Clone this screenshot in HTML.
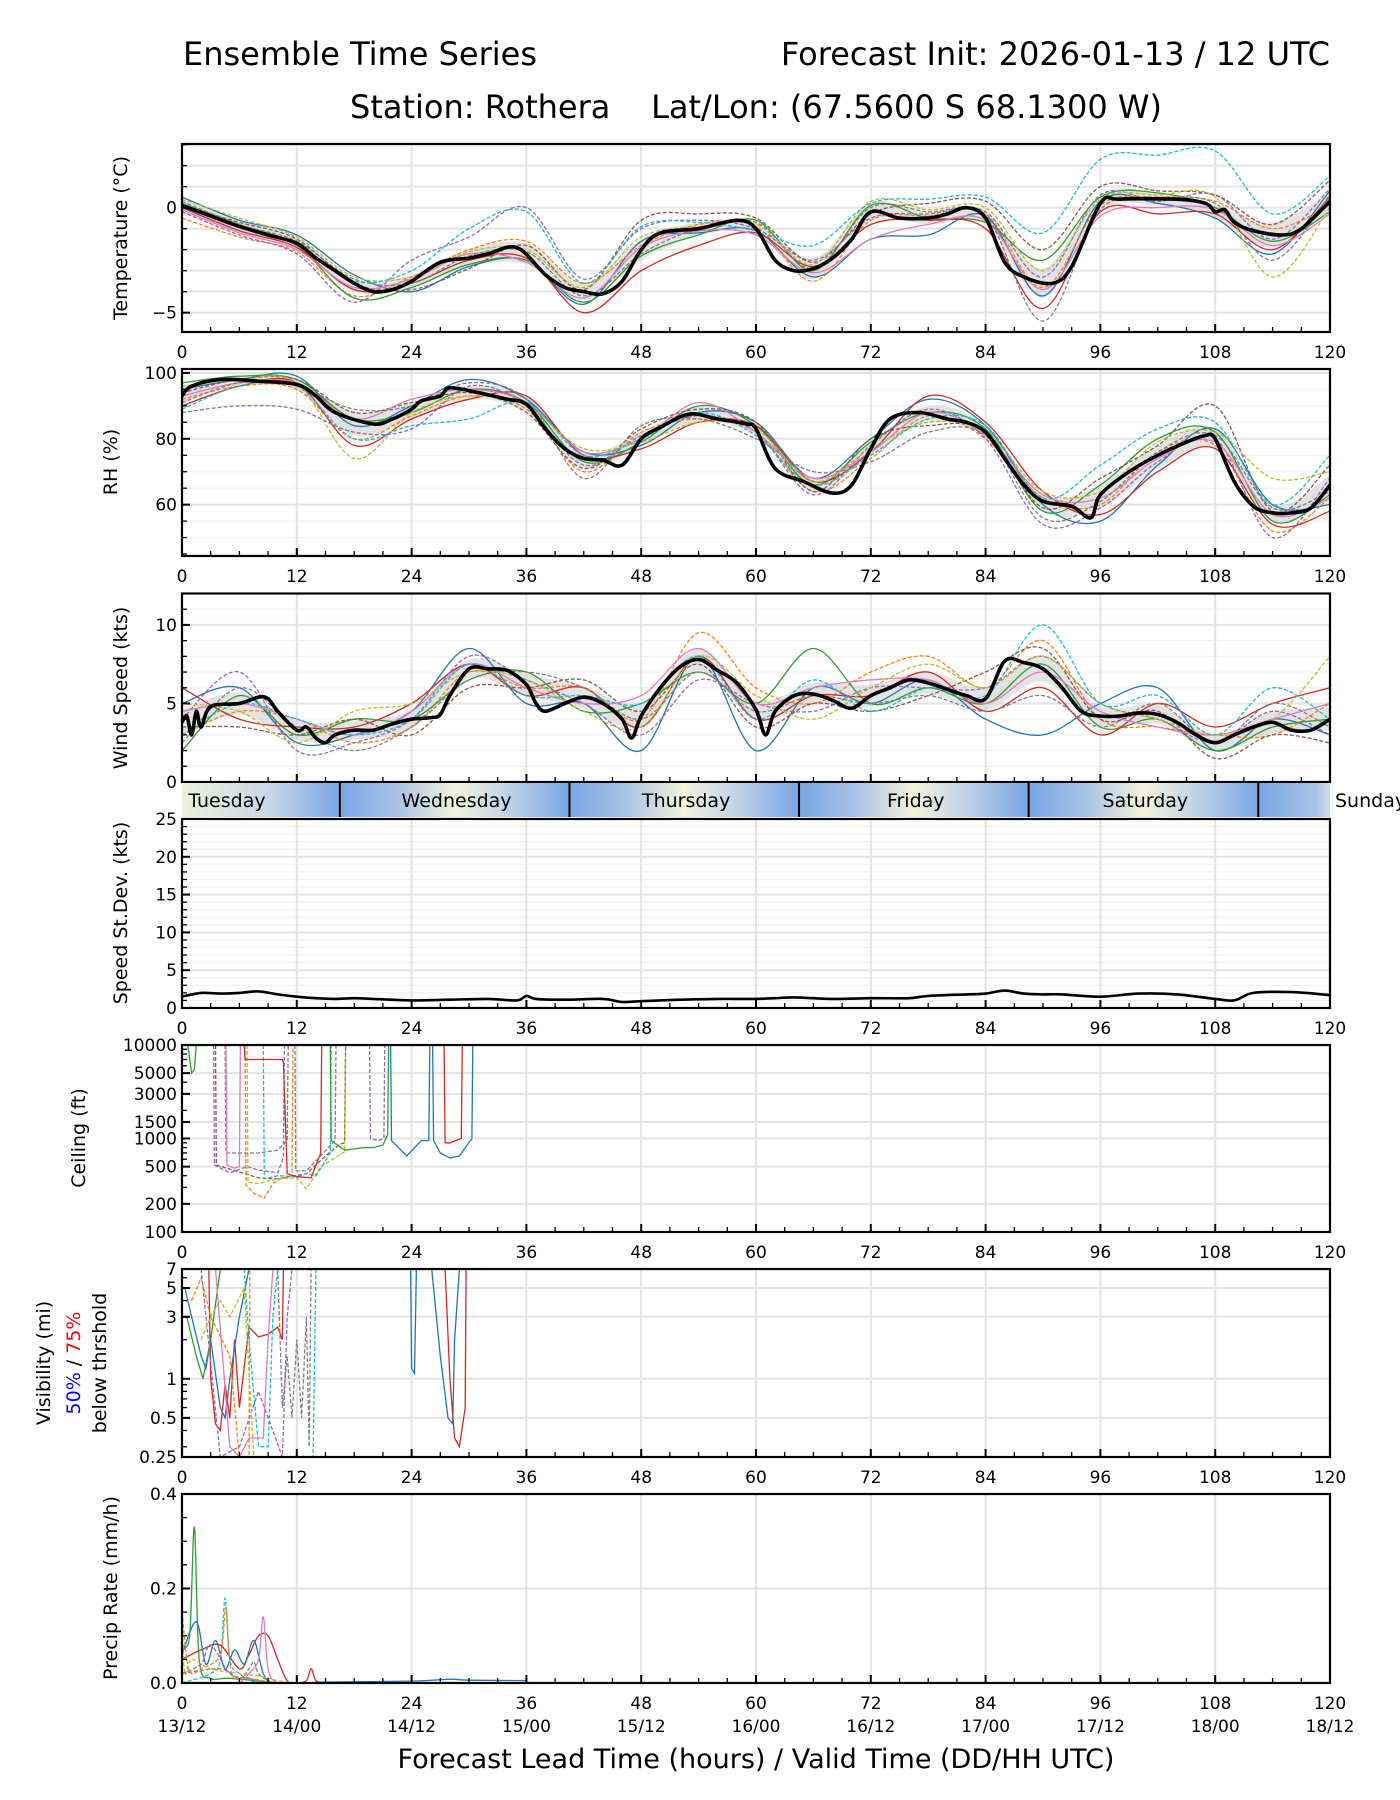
<!DOCTYPE html>
<html><head><meta charset="utf-8">
<style>
html,body{margin:0;padding:0;background:#fff;}
svg{display:block;font-family:"DejaVu Sans","Liberation Sans",sans-serif;}
</style></head>
<body>
<svg id="fig" width="1400" height="1800" viewBox="0 0 1400 1800" xmlns="http://www.w3.org/2000/svg">
<text x="183" y="65" font-size="32">Ensemble Time Series</text>
<text x="1330" y="65" font-size="32" text-anchor="end">Forecast Init: 2026-01-13 / 12 UTC</text>
<text x="756" y="118" font-size="32" text-anchor="middle" xml:space="preserve">Station: Rothera    Lat/Lon: (67.5600 S 68.1300 W)</text>
<text x="756" y="1768" font-size="27" text-anchor="middle">Forecast Lead Time (hours) / Valid Time (DD/HH UTC)</text>
<g id="root"></g>
</svg>
<script>
// ---------- DATA ----------
const xTickHours = [0,12,24,36,48,60,72,84,96,108,120];
const dateLabels = ["13/12","14/00","14/12","15/00","15/12","16/00","16/12","17/00","17/12","18/00","18/12"];
const memberColors = ["#1f77b4","#ff7f0e","#2ca02c","#d62728","#9467bd","#8c564b","#e377c2","#7f7f7f","#bcbd22","#17becf"];
const memberDashed = [false,true,false,false,true,true,false,true,true,true];
const memberHours = [0,6,12,18,24,30,36,42,48,54,60,66,72,78,84,90,96,102,108,114,120];

// Temperature
const tempMeanHours = [0,3,6,9,12,14,16,18,20,22,24,27,30,32,35,38,40,42,44,46,48,50,54,58,60,62,64,66,68,70,72,75,78,80,82,84,86,88,91,93,96,98,104,107,108,109,110,112,115,117,120];
const tempMeanValues = [0.1,-0.4,-0.9,-1.3,-1.7,-2.4,-3.0,-3.6,-4.0,-3.9,-3.5,-2.6,-2.4,-2.2,-1.9,-3.2,-3.8,-4.0,-4.1,-3.5,-2.0,-1.2,-1.0,-0.6,-1.0,-2.5,-3.0,-2.9,-2.4,-1.5,-0.2,-0.5,-0.5,-0.3,0.0,-0.5,-2.6,-3.3,-3.6,-2.8,0.2,0.4,0.4,0.2,-0.2,-0.1,-0.7,-1.1,-1.3,-1.0,0.3];
const tempBandLow = [-0.2,-1.2,-2.0,-4.0,-3.8,-2.8,-2.7,-4.4,-2.5,-1.3,-1.3,-3.4,-0.6,-0.8,-0.8,-4.3,-0.2,0.1,-0.5,-1.9,-0.1];
const tempBandHigh = [0.4,-0.6,-1.4,-3.4,-3.2,-2.0,-1.7,-3.6,-1.5,-0.7,-0.7,-2.4,0.2,-0.2,-0.2,-2.9,0.6,0.7,0.1,-0.7,0.7];
const tempM1 = [0.5,-0.6,-1.3,-3.2,-4.0,-2.8,-2.5,-4.6,-1.6,-1.2,-1.1,-3.3,-1.5,-1.3,-0.4,-4.2,0.3,0.2,-0.5,-2.2,0.8];
const tempM2 = [-0.5,-1.4,-2.1,-4.2,-3.3,-2.0,-1.6,-3.6,-1.8,-0.8,-0.9,-3.5,-0.6,-0.4,-0.3,-3.8,0.1,0.5,0.3,-1.0,0.1];
const tempM3 = [0.2,-0.8,-1.8,-4.3,-3.8,-2.7,-2.5,-4.5,-2.3,-1.3,-0.6,-3.0,0.1,-0.5,-0.7,-2.5,0.5,0.7,0.0,-1.6,-0.2];
const tempM4 = [0.0,-1.1,-1.9,-3.9,-3.6,-2.5,-2.4,-5.0,-3.0,-1.8,-1.2,-2.8,-0.8,-0.6,-1.0,-4.8,-0.2,-0.3,-0.3,-2.0,0.5];
const tempM5 = [-0.2,-1.3,-2.2,-4.5,-2.5,-1.4,0.0,-3.4,-1.0,-0.6,-1.0,-2.5,-0.5,-0.3,-0.2,-3.3,0.6,0.3,0.6,-1.5,0.9];
const tempM6 = [0.1,-0.7,-1.5,-3.6,-3.9,-2.9,-1.8,-3.9,-0.6,-0.3,-0.5,-2.6,-0.3,0.2,0.3,-2.0,1.0,0.8,0.6,-0.8,1.3];
const tempM7 = [-0.1,-1.2,-2.0,-3.8,-3.4,-2.2,-2.6,-4.3,-1.9,-1.1,-1.3,-3.1,-1.5,-0.8,-0.6,-3.9,-0.4,0.0,-0.1,-1.8,-0.3];
const tempM8 = [0.3,-0.8,-1.6,-3.4,-3.6,-2.3,-2.1,-4.2,-2.2,-1.0,-0.7,-2.9,0.0,-0.2,-0.4,-5.4,-0.1,0.4,0.2,-2.5,0.6];
const tempM9 = [0.4,-0.5,-1.4,-3.3,-3.3,-2.1,-2.0,-3.8,-1.4,-0.9,-0.8,-2.7,0.3,-0.1,0.0,-3.0,0.4,0.6,0.5,-3.3,0.0];
const tempM10 = [0.2,-0.9,-1.7,-3.5,-3.0,-1.0,-0.2,-3.6,-0.9,-0.7,-1.1,-1.8,0.2,0.4,0.5,-1.2,2.3,2.5,2.7,-0.3,1.5];

// RH
const rhMeanHours = [0,1,4,8,12,14,16,20,22,24,25,27,28,31,34,36,38,40,42,44,46,48,50,53,56,59,60,62,65,68,70,72,74,77,80,82,84,86,88,90,93,95,96,99,102,105,107,108,110,112,114,116,118,120];
const rhMeanValues = [93,96,98,97.5,96.5,93,88,84.5,86,89,91.5,93,95.5,94,92,90.5,83,77,74,73.5,72,80,83.5,87.5,86,84.5,83,71,67,63.5,66,77,86,88,86,85,82,74,66,61,59.5,56,63,70,75,79,81,80,67,59.5,57.5,57.5,59,66];
const rhBandLow = [91,96,95,81,86,92,88,71,78,85,81,64,75,85,80,58,59,71,77,55,62];
const rhBandHigh = [96,99,98,88,91,96,93,76,82,90,85,68,79,90,84,63,66,78,83,60,69];
const rhM1 = [95,98,99,84,90,98,92,76,78,88,85,68,80,92,84,60,55,72,83,60,60];
const rhM2 = [92,96,95,80,87,93,89,70,82,86,82,64,74,87,80,62,60,76,78,52,62];
const rhM3 = [97,99,98,86,88,95,91,73,79,90,84,66,79,88,83,58,66,80,82,55,63];
const rhM4 = [90,96,97,78,86,92,93,75,77,85,84,67,76,93,85,64,57,70,77,54,58];
const rhM5 = [88,90,89,82,83,96,90,72,81,87,82,63,78,89,80,54,59,73,80,50,68];
const rhM6 = [94,98,98,88,91,94,88,71,83,89,85,64,80,84,82,59,68,78,90,58,72];
const rhM7 = [93,97,97,86,92,95,91,76,80,91,82,68,76,88,81,63,62,74,79,57,62];
const rhM8 = [91,97,96,89,90,97,92,68,84,86,80,70,73,82,81,56,61,76,81,59,64];
const rhM9 = [96,98,97,74,88,93,90,77,79,85,83,67,77,85,82,64,64,79,82,68,70];
const rhM10 = [89,96,96,80,84,86,91,75,80,88,81,66,75,86,84,62,72,83,85,60,75];

// Wind
const windMeanHours = [0,0.5,1,1.5,2,3,6,8,9,10,12,13,14,15,16,18,20,22,24,26,27,28,30,32,34,36,37,38,40,42,44,46,47,48,50,52,54,56,58,60,61,62,64,66,68,70,72,74,76,78,80,82,84,86,88,90,92,94,96,98,100,102,104,106,108,110,112,114,116,118,120];
const windMeanValues = [3.8,4.2,3.0,4.5,3.5,4.8,5.0,5.4,5.3,4.5,3.3,3.5,2.8,2.5,3.0,3.3,3.3,3.7,4.0,4.1,4.3,5.5,7.2,7.2,7.1,6.2,5.0,4.5,5.0,5.4,5.0,4.0,2.8,4.2,6.0,7.3,7.8,7.1,6.3,4.6,3.0,4.5,5.5,5.6,5.2,4.7,5.5,6.0,6.5,6.3,5.9,5.5,5.3,7.7,7.6,7.2,6.0,4.5,4.2,4.2,4.4,4.3,3.8,3.0,2.5,3.0,3.5,3.8,3.3,3.3,4.0];
const windBandLow = [3.0,4.3,2.7,2.7,3.4,6.6,5.5,4.7,3.5,7.1,4.0,4.9,4.8,5.6,4.6,6.4,3.6,3.7,2.0,3.1,3.3];
const windBandHigh = [4.6,5.7,3.9,3.9,4.6,7.8,6.9,6.1,4.9,8.5,5.2,6.3,6.2,7.0,6.0,8.0,4.8,4.9,3.0,4.5,4.7];
const windM1 = [5,6,2.5,3,4.5,8.5,5,5,2,8,2,6,5,6.5,4,3,5,6,2,4,3];
const windM2 = [3,4.5,4,2.5,3.5,7,6,6,4,9.5,6,5,7,8,6,9,4,3.5,3,3,5];
const windM3 = [2,5.5,3,4,4,6.5,7,4.5,5,7,5,8.5,5,6,5,7.5,3.5,4,2,3.5,4];
const windM4 = [6,4,3.5,3.5,5,7.5,5.5,6,3.5,8,4,5.5,5.5,7,4.5,6,3,5,3.5,5,6];
const windM5 = [4,7,2,2.5,4,8,6.5,5,3,6.5,5,4.5,6,6,6,8,5,4,2.5,4.5,3];
const windM6 = [3.5,3.5,3,4,3,6,6,6.5,4.5,7.5,3.5,5,4.5,5.5,7,8.5,4,4.5,1.5,3,2.5];
const windM7 = [4.5,5,4,3,4.5,7.5,6,5,5.5,8.5,5,6,6.5,6.5,5,7,4.5,3.5,3,4,5];
const windM8 = [2.5,6,3.5,2,3.5,6.5,7,6,4,7,4.5,5.5,5,5.5,4.5,5.5,3.5,5,2.5,5,3.5];
const windM9 = [5,4.5,2.5,4.5,5,7,6.5,4.5,3.5,8,5.5,4,6,7.5,6,8,5,4,3,4,8];
const windM10 = [3,5,4,3,4,7.5,5.5,5.5,5,8,4,6.5,4.5,6,5.5,10,5,5.5,3,6,4];

// Speed st.dev.
const sdHours = [0,2,4,6,8,10,12,14,16,18,20,24,28,32,35,36,37,40,44,46,48,52,56,60,62,64,68,72,76,78,82,84,86,88,90,92,96,100,104,108,110,112,116,120];
const sdValues = [1.5,2.0,1.9,2.0,2.2,1.8,1.5,1.3,1.2,1.3,1.2,1.0,1.1,1.2,1.0,1.6,1.2,1.1,1.2,0.8,0.9,1.1,1.2,1.2,1.3,1.4,1.2,1.3,1.3,1.6,1.8,1.9,2.3,1.9,1.8,1.8,1.5,1.9,1.8,1.2,1.0,2.0,2.1,1.7];

// Ceiling members (hour / ft)
const ceilH1=[3.3,3.4,5,6.8,8,10,10.6,10.7], ceilV1=[10000,520,430,500,460,430,620,10000];
const ceilH2=[3.5,3.6,8,10,13,15,16.5,17,17.1], ceilV2=[10000,520,380,370,420,650,870,900,10000];
const ceilH3=[6.6,6.7,7.5,8.6,9.5,10.5,11.5,11.6], ceilV3=[10000,320,260,230,330,380,400,10000];
const ceilH4=[6.8,6.9,8,10,12,13,14.5,17,17.1], ceilV4=[10000,340,330,370,380,290,500,720,10000];
const ceilH5=[8.5,8.6,10,12,13,14,15.5,15.6], ceilV5=[10000,370,400,390,420,400,700,10000];
const ceilH6=[6.5,6.6,10.5,10.6,11,12,13.5,14.5,14.6], ceilV6=[10000,7000,7000,6500,420,390,380,700,10000];
const ceilH7=[11.8,11.9,13,16,16.1], ceilV7=[10000,450,450,950,10000];
const ceilH8=[4.5,4.6,8,10,11,11.1], ceilV8=[10000,700,700,750,950,10000];
const ceilH9=[21.8,21.9,23.5,25,25.8,25.9], ceilV9=[10000,950,650,950,950,10000];
const ceilH10=[26.2,26.3,27,28,29,30.3,30.4], ceilV10=[10000,950,700,620,650,1000,10000];
const ceilH11=[15.5,15.6,17,19,20,21,21.5,21.6], ceilV11=[10000,950,750,800,800,850,1100,10000];
const ceilH12=[27.4,27.5,28,29.2,29.3], ceilV12=[10000,900,900,1000,10000];
const ceilH13=[19.6,19.7,20.5,21.1,21.2], ceilV13=[10000,1000,950,1000,10000];
const ceilH14=[4.6,4.7,5.5,6,6.1], ceilV14=[10000,520,480,500,10000];
const ceilH15=[0.6,1,1.3,1.5], ceilV15=[10000,5000,5500,10000];
const ceilColorIdx=[4,5,1,8,9,3,7,7,0,0,2,3,4,6,2];

// Visibility members (hour / mi)
const visH1=[2.8,3,3.5,4,4.5,5,5.5,6,7,8,9,10,10.5,10.6], visV1=[7,1,0.45,0.4,0.9,0.5,2,0.6,2.5,2.1,2.2,2.5,2.0,7];
const visH2=[0.3,1,2,2.5,3,4,4.5,5,6,7,7.1], visV2=[5,3,1.5,1.2,2,0.6,0.5,1,3,7,7];
const visH3=[10,10.5,11,11.5,12,12.5,13,13.3,13.5], visV3=[7,0.6,1.5,0.5,2,0.5,3,0.3,7];
const visH4=[23.9,24,24.3,24.5,24.6], visV4=[7,1.2,1.1,7,7];
const visH5=[26.1,27,27.8,28.3,28.5,29], visV5=[7,1.5,0.5,0.45,2,7];
const visH6=[27.5,28,28.5,29,29.6,29.7], visV6=[7,1,0.35,0.3,0.6,7];
const visH7=[6.5,7,8,9,9.5,10], visV7=[7,2,0.3,0.3,3,7];
const visH8=[1,2,3,5,6,7,7.1], visV8=[4,6,3,1.5,0.25,0.25,7];
const visH9=[2,4,6,8,10.5,11,11.5], visV9=[7,0.25,0.3,0.8,0.25,3,7];
const visH10=[0.5,1.5,2.2,3,4], visV10=[3,1.5,1,2,7];
const visH11=[2,3,4,5,6.5,7.5,8], visV11=[2,3,4,3,5,0.25,0.25];
const visH12=[3.5,5,6,7,8.5,9,9.5], visV12=[7,0.3,0.25,0.35,0.35,2,7];
const visH13=[13.5,13.7,14,14.2], visV13=[0.25,0.25,7,7];
const visColorIdx=[3,0,7,0,0,3,9,1,4,2,8,6,9];

// Precip members (hour / mm/h)
const prH1=[0,0.8,1.3,1.8,3,5,10], prV1=[0.08,0.1,0.33,0.05,0.01,0.01,0];
const prH2=[0,3,4,4.5,5,6,8,12], prV2=[0,0.02,0.05,0.18,0.05,0.02,0,0];
const prH3=[0,2,4,6,7,8,9,10,11,12,13,13.5,14,15], prV3=[0.05,0.07,0.08,0.03,0.06,0.1,0.1,0.05,0.005,0,0.005,0.03,0.005,0];
const prH4=[0,1.5,2.5,3.5,4.5,5.5,6.5,7.5,8.5,9.5,12], prV4=[0.06,0.13,0.04,0.09,0.03,0.07,0.04,0.09,0.02,0,0];
const prH5=[6,7,8,8.5,9,10,12], prV5=[0,0.02,0.05,0.14,0.03,0,0];
const prH6=[0,0.5,1,2,4,4.6,5.2,7,10], prV6=[0.15,0.05,0.02,0.03,0.06,0.16,0.02,0.01,0];
const prH7=[0,4,6,7,7.5,8,9,10], prV7=[0.02,0.03,0.01,0.03,0.045,0.02,0.005,0];
const prH8=[0,0.3,1,3,6,8,10,12], prV8=[0.12,0.02,0.05,0.03,0.02,0.015,0.005,0];
const prH9=[0,2,3,5,7,9], prV9=[0.02,0.04,0.08,0.02,0.01,0];
const prH10=[14,24,28,30,36], prV10=[0.002,0.004,0.008,0.006,0.005];
const prColorIdx=[2,9,3,0,6,1,7,8,4,0];

// Day bar
const dayBoundaries = [16.5,40.5,64.5,88.5,112.5];
const dayNames = ["Tuesday","Wednesday","Thursday","Friday","Saturday"];
const dayCenters = [4.7,28.7,52.7,76.7,100.7];

// ---------- DRAWING ----------
const NS="http://www.w3.org/2000/svg";
const root=document.getElementById('root');
const X0=182, X1=1330;
function xs(h){return X0+(h/120)*(X1-X0);}
function mk(tag,attrs,parent){const e=document.createElementNS(NS,tag);for(const k in attrs)e.setAttribute(k,attrs[k]);(parent||root).appendChild(e);return e;}
function linY(lo,hi,top,bot){return v=>bot-(v-lo)/(hi-lo)*(bot-top);}
function logY(lo,hi,top,bot){return v=>bot-(Math.log10(v)-Math.log10(lo))/(Math.log10(hi)-Math.log10(lo))*(bot-top);}
function smoothPath(hs,vs,ys){
  const p=hs.map((h,i)=>[xs(h),ys(vs[i])]);
  let d=`M${p[0][0].toFixed(1)},${p[0][1].toFixed(1)}`;
  for(let i=0;i<p.length-1;i++){
    const a=p[Math.max(0,i-1)],b=p[i],c=p[i+1],e=p[Math.min(p.length-1,i+2)];
    const c1=[b[0]+(c[0]-a[0])/6,b[1]+(c[1]-a[1])/6],c2=[c[0]-(e[0]-b[0])/6,c[1]-(e[1]-b[1])/6];
    d+=`C${c1[0].toFixed(1)},${c1[1].toFixed(1)} ${c2[0].toFixed(1)},${c2[1].toFixed(1)} ${c[0].toFixed(1)},${c[1].toFixed(1)}`;
  }
  return d;
}
function linePath(hs,vs,ys){return hs.map((h,i)=>(i?'L':'M')+xs(h).toFixed(1)+','+ys(vs[i]).toFixed(1)).join('');}

let clipId=0;
function panel(name,top,bot,ys,gridVals,minorGridVals,yTicks,yMinor,showX){
  const g=mk('g',{});
  
  
  const cid='clip'+(clipId++);
  const cp=mk('clipPath',{id:cid},g);mk('rect',{x:X0,y:top,width:X1-X0,height:bot-top},cp);
  (minorGridVals||[]).forEach(v=>mk('line',{x1:X0,x2:X1,y1:ys(v),y2:ys(v),stroke:'#f1f1f1','stroke-width':1.2},g));
  gridVals.forEach(v=>mk('line',{x1:X0,x2:X1,y1:ys(v),y2:ys(v),stroke:'#e3e3e3','stroke-width':2},g));
  xTickHours.forEach(h=>mk('line',{x1:xs(h),x2:xs(h),y1:top,y2:bot,stroke:'#e3e3e3','stroke-width':2},g));
  const data=mk('g',{'clip-path':`url(#${cid})`},g);
  mk('rect',{x:X0,y:top,width:X1-X0,height:bot-top,fill:'none',stroke:'#000','stroke-width':2.2},g);
  for(let h=0;h<=120;h+=3){const maj=h%12===0;mk('line',{x1:xs(h),x2:xs(h),y1:bot,y2:bot-(maj?8:5),stroke:'#000','stroke-width':maj?2:1.3},g);}
  yTicks.forEach(t=>{const y=ys(t.v);mk('line',{x1:X0,x2:X0+8,y1:y,y2:y,stroke:'#000','stroke-width':2},g);
    const tx=mk('text',{x:X0-5,y:y+6,'font-size':17,'text-anchor':'end'},g);tx.textContent=t.l;
    
    });
  (yMinor||[]).forEach(v=>{const y=ys(v);mk('line',{x1:X0,x2:X0+5,y1:y,y2:y,stroke:'#000','stroke-width':1.3},g);});
  if(showX!==false) xTickHours.forEach(h=>{const tx=mk('text',{x:xs(h),y:bot+26,'font-size':17,'text-anchor':'middle'},g);tx.textContent=h;
    
    });
  return data;
}
function members(data,arrs,hours,ys,smooth,colorIdx){
  arrs.forEach((vals,i)=>{
    const hs=Array.isArray(hours[0])?hours[i]:hours;
    const ci=colorIdx?colorIdx[i]:i%10;
    const p=mk('path',{d:smooth?smoothPath(hs,vals,ys):linePath(hs,vals,ys),fill:'none',stroke:memberColors[ci],'stroke-width':1.3,'stroke-dasharray':memberDashed[ci]?'4,2':'none'},data);
    
    
  });
}
function band(data,lo,hi,ys){
  const up=smoothPath(memberHours,hi,ys);
  const revH=memberHours.slice().reverse(),revL=lo.slice().reverse();
  const dn=smoothPath(revH,revL,ys).replace(/^M/,'L');
  const p=mk('path',{d:up+dn+'Z',fill:'#d0d0d0','fill-opacity':0.6,stroke:'none'},data);
  
  
}
function meanLine(data,hs,vs,ys,w){
  const p=mk('path',{d:smoothPath(hs,vs,ys),fill:'none',stroke:'#000','stroke-width':w||3.6,'stroke-linejoin':'round'},data);
  
  
}
function ylabel(text,x,cy,name,size){
  const t=mk('text',{x:x,y:cy,'font-size':size||19,'text-anchor':'middle',transform:`rotate(-90 ${x} ${cy})`});
  t.textContent=text;
  
  
}
const rng=(a,b,s)=>{const r=[];for(let v=a;v<=b+1e-9;v+=s)r.push(+v.toFixed(3));return r;};

// Temperature
{const ys=linY(-5.92,3.03,144,332);
 const d=panel('temperature',144,332,ys,rng(-5,3,1),[],[{v:-5,l:'−5'},{v:0,l:'0'}],rng(-5,3,1));
 band(d,tempBandLow,tempBandHigh,ys);
 members(d,[tempM1,tempM2,tempM3,tempM4,tempM5,tempM6,tempM7,tempM8,tempM9,tempM10],memberHours,ys,true);
 meanLine(d,tempMeanHours,tempMeanValues,ys);
 ylabel('Temperature (°C)',127,238,'temperature-y-axis-title');}
// RH
{const ys=linY(44.4,101.2,369,556);
 const d=panel('rh',369,556,ys,[60,80,100],rng(45,100,5),[{v:60,l:'60'},{v:80,l:'80'},{v:100,l:'100'}],rng(45,100,5));
 band(d,rhBandLow,rhBandHigh,ys);
 members(d,[rhM1,rhM2,rhM3,rhM4,rhM5,rhM6,rhM7,rhM8,rhM9,rhM10],memberHours,ys,true);
 meanLine(d,rhMeanHours,rhMeanValues,ys);
 ylabel('RH (%)',117,462,'rh-y-axis-title');}
// Wind
{const ys=linY(0,12,593.5,782);
 const d=panel('wind',593.5,782,ys,[0,5,10],rng(0,12,1),[{v:0,l:'0'},{v:5,l:'5'},{v:10,l:'10'}],rng(0,12,1),false);
 band(d,windBandLow,windBandHigh,ys);
 members(d,[windM1,windM2,windM3,windM4,windM5,windM6,windM7,windM8,windM9,windM10],memberHours,ys,true);
 meanLine(d,windMeanHours,windMeanValues,ys);
 ylabel('Wind Speed (kts)',127,688,'wind-y-axis-title');}
// Day bar
{const g=mk('g',{});
 const defs=mk('defs',{},g);const lg=mk('linearGradient',{id:'dayGrad',x1:0,x2:1,y1:0,y2:0},defs);
 const stops=[[0,'#eef1dc']];dayBoundaries.forEach(b=>{stops.push([b-7,'#c4d6e8']);stops.push([b,'#78a6e4']);stops.push([b+6,'#a9c3e6']);stops.push([b+12,'#f4f3dc']);});stops.push([120,'#d2e0e4']);
 stops.forEach(s=>{if(s[0]>=0&&s[0]<=120)mk('stop',{offset:(s[0]/120*100).toFixed(2)+'%','stop-color':s[1]},lg);});
 mk('rect',{x:X0,y:783,width:X1-X0,height:34,fill:'url(#dayGrad)'},g);
 dayBoundaries.forEach(b=>mk('line',{x1:xs(b),x2:xs(b),y1:783,y2:817,stroke:'#000','stroke-width':2},g));
 dayNames.forEach((n,i)=>{const t=mk('text',{x:xs(dayCenters[i]),y:807,'font-size':19,'text-anchor':'middle'},g);t.textContent=n;
   });
 const t=mk('text',{x:1335,y:807,'font-size':19},g);t.textContent='Sunday';
 }
// Std dev
{const ys=linY(0,25,819,1008);
 const d=panel('speed-stdev',819,1008,ys,rng(0,25,5),rng(0,25,1),[0,5,10,15,20,25].map(v=>({v,l:String(v)})),rng(0,25,1));
 meanLine(d,sdHours,sdValues,ys,2.6);
 ylabel('Speed St.Dev. (kts)',127,913,'stdev-y-axis-title');}
// Ceiling
{const ys=logY(100,10000,1045,1232);
 const tk=[100,200,500,1000,1500,3000,5000,10000];
 const d=panel('ceiling',1045,1232,ys,tk,[],tk.map(v=>({v,l:String(v)})),[300,400,600,700,800,900,2000,4000,6000,7000,8000,9000]);
 members(d,[ceilV1,ceilV2,ceilV3,ceilV4,ceilV5,ceilV6,ceilV7,ceilV8,ceilV9,ceilV10,ceilV11,ceilV12,ceilV13,ceilV14,ceilV15],[ceilH1,ceilH2,ceilH3,ceilH4,ceilH5,ceilH6,ceilH7,ceilH8,ceilH9,ceilH10,ceilH11,ceilH12,ceilH13,ceilH14,ceilH15],ys,false,ceilColorIdx);
 ylabel('Ceiling (ft)',85,1138,'ceiling-y-axis-title');}
// Visibility
{const ys=logY(0.25,7,1269,1457);
 const tk=[0.25,0.5,1,3,5,7];
 const d=panel('visibility',1269,1457,ys,tk,[],tk.map(v=>({v,l:String(v)})),[0.3,0.4,0.6,0.7,0.8,0.9,2,4,6]);
 members(d,[visV1,visV2,visV3,visV4,visV5,visV6,visV7,visV8,visV9,visV10,visV11,visV12,visV13],[visH1,visH2,visH3,visH4,visH5,visH6,visH7,visH8,visH9,visH10,visH11,visH12,visH13],ys,false,visColorIdx);
 ylabel('Visibility (mi)',50,1363,'visibility-y-axis-title');
 const t=mk('text',{x:80,y:1363,'font-size':19,'text-anchor':'middle',transform:'rotate(-90 80 1363)'});
 
 const a=mk('tspan',{fill:'#0000ff'},t);a.textContent='50%';const b=mk('tspan',{fill:'#000'},t);b.textContent=' / ';const c=mk('tspan',{fill:'#ff0000'},t);c.textContent='75%';
 ylabel('below thrshold',106,1363,'visibility-threshold-subtitle');}
// Precip
{const ys=linY(0,0.4,1494,1683);
 const d=panel('precip',1494,1683,ys,[0,0.2,0.4],[],[{v:0,l:'0.0'},{v:0.2,l:'0.2'},{v:0.4,l:'0.4'}],[0.05,0.1,0.15,0.25,0.3,0.35]);
 members(d,[prV1,prV2,prV3,prV4,prV5,prV6,prV7,prV8,prV9,prV10],[prH1,prH2,prH3,prH4,prH5,prH6,prH7,prH8,prH9,prH10],ys,true,prColorIdx);
 ylabel('Precip Rate (mm/h)',117,1588,'precip-y-axis-title');
 dateLabels.forEach((l,i)=>{const t=mk('text',{x:xs(xTickHours[i]),y:1732,'font-size':17,'text-anchor':'middle'});t.textContent=l;
   });}
</script>
</body></html>
